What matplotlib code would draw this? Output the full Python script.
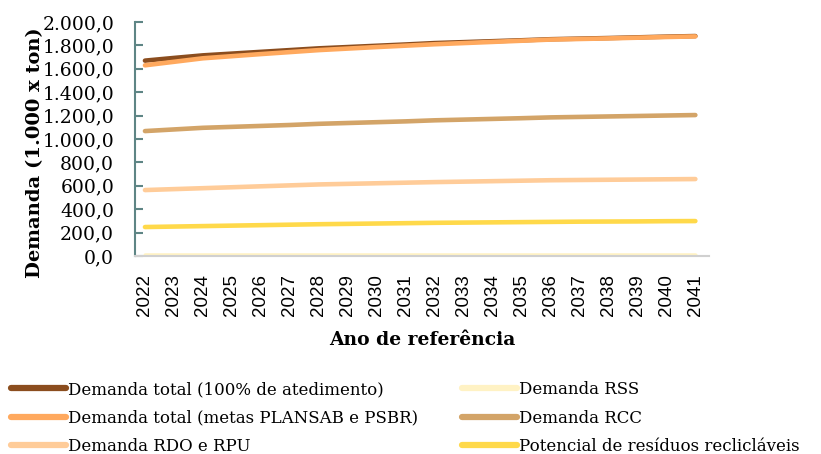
import matplotlib.pyplot as plt
from matplotlib.ticker import FuncFormatter

# anos de referência
anos = list(range(2022, 2042))

# demandas em 1.000 t
total_100 = [1670, 1693, 1715, 1730, 1745, 1760, 1775, 1786, 1797, 1808, 1820, 1828, 1836, 1844, 1853, 1858, 1863, 1869, 1875, 1880]
total_metas = [1630, 1660, 1690, 1708, 1726, 1743, 1760, 1773, 1786, 1798, 1810, 1820, 1830, 1840, 1850, 1855, 1860, 1866, 1872, 1877]
rdo_rpu = [564, 572, 580, 588, 596, 604, 612, 617, 622, 627, 632, 636, 640, 644, 648, 650, 652, 654, 656, 658]
rss = [5, 5, 5, 5, 5, 5, 5, 5, 5, 5, 5, 5, 5, 5, 5, 5, 5, 5, 5, 5]
rcc = [1068, 1082, 1096, 1104, 1112, 1120, 1130, 1137, 1144, 1151, 1160, 1166, 1172, 1178, 1185, 1189, 1193, 1197, 1201, 1205]
reciclaveis = [248, 252, 256, 260, 264, 268, 272, 275, 278, 281, 284, 286, 288, 290, 292, 294, 295, 296, 298, 299]

cores = {
    'total_100': '#8b4d1e',
    'total_metas': '#ffa95e',
    'rdo': '#ffcc99',
    'rss': '#fff2c4',
    'rcc': '#d3a468',
    'recic': '#ffd94a',
}

fig = plt.figure(figsize=(8.21, 4.54), dpi=100)
ax = fig.add_axes([0.1644, 0.436, 0.6995, 0.5155])

x = list(range(len(anos)))
lw = 3.3
l_rss, = ax.plot(x, rss, color=cores['rss'], lw=lw, solid_capstyle='round', label='Demanda RSS')
l_rec, = ax.plot(x, reciclaveis, color=cores['recic'], lw=lw, solid_capstyle='round', label='Potencial de resíduos reclicláveis')
l_rdo, = ax.plot(x, rdo_rpu, color=cores['rdo'], lw=lw, solid_capstyle='round', label='Demanda RDO e RPU')
l_rcc, = ax.plot(x, rcc, color=cores['rcc'], lw=lw, solid_capstyle='round', label='Demanda RCC')
l_100, = ax.plot(x, total_100, color=cores['total_100'], lw=lw, solid_capstyle='round', label='Demanda total (100% de atedimento)')
l_met, = ax.plot(x, total_metas, color=cores['total_metas'], lw=lw, solid_capstyle='round', label='Demanda total (metas PLANSAB e PSBR)')

ax.set_xlim(-0.345, 19.48)
ax.set_ylim(0, 2000)
ax.set_yticks(range(0, 2001, 200))
ax.yaxis.set_major_formatter(FuncFormatter(lambda v, p: f'{v:,.1f}'.replace(',', 'X').replace('.', ',').replace('X', '.')))
ax.set_xticks(x)
ax.set_xticklabels([str(a) for a in anos], rotation=90, family='Liberation Sans', fontsize=13.5)
for lab in ax.get_yticklabels():
    lab.set_family('DejaVu Serif')
    lab.set_fontsize(13.5)

ax.spines['top'].set_visible(False)
ax.spines['right'].set_visible(False)
ax.spines['left'].set_color('#5e8585')
ax.spines['left'].set_linewidth(1.5)
ax.spines['bottom'].set_color('#d0d0d0')
ax.spines['bottom'].set_linewidth(1.5)
ax.tick_params(axis='y', direction='in', length=6, width=1.5, color='#5e8585', pad=15)
ax.tick_params(axis='x', length=0, pad=13)

ax.set_xlabel('Ano de referência', family='DejaVu Serif', fontweight='bold', fontsize=13.5)
ax.xaxis.set_label_coords(0.5, -0.32)
ax.set_ylabel('Demanda (1.000 x ton)', family='DejaVu Serif', fontweight='bold', fontsize=14)
ax.yaxis.set_label_coords(-0.158, 0.44)

leg = fig.legend(handles=[l_100, l_met, l_rdo, l_rss, l_rcc, l_rec], ncol=2, loc='lower left',
                 bbox_to_anchor=(-0.005, -0.035), frameon=False, handlelength=3.3, handletextpad=0.15,
                 columnspacing=2.6, labelspacing=0.68, prop={'family': 'DejaVu Serif', 'size': 12})
for h in leg.get_lines():
    h.set_linewidth(4.5)

fig.savefig('out.png', dpi=100)
